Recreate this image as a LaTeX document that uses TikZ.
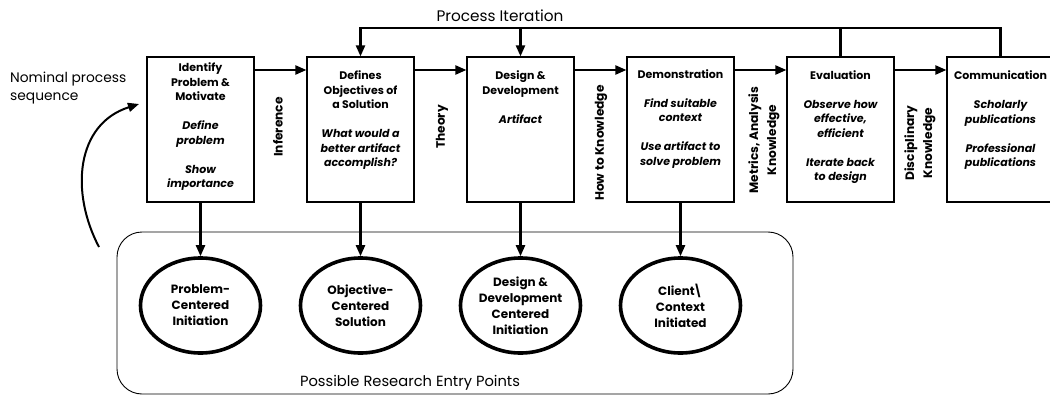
\documentclass[tikz,border=0pt]{standalone}
\usepackage{fontspec}
\setmainfont{Poppins}
\usetikzlibrary{arrows.meta,shapes.geometric}
\newcommand\stagehead[1]{{\bfseries #1}}
\newcommand\tasknote[1]{{\bfseries\itshape #1}}
\begin{document}
\begin{tikzpicture}[x=1pt,y=-1pt,
  stage/.style={draw, line width=1.2pt, minimum width=107pt, minimum height=145pt, inner sep=0pt},
  stagetext/.style={anchor=north, align=center, inner sep=0pt, font=\fontsize{11}{14.5}\selectfont},
  flow/.style={line width=2.2pt, -{Triangle[length=11pt,width=9pt]}},
  link/.style={line width=2.2pt},
  kind/.style={rotate=90, align=center, inner sep=0pt, font=\fontsize{12.2}{18}\selectfont\bfseries},
  entry/.style={draw, ellipse, line width=3.6pt, minimum width=120pt, minimum height=95pt,
    inner sep=0pt, align=center, font=\fontsize{12}{16}\selectfont\bfseries},
  plain/.style={inner sep=0pt, font=\fontsize{14.7}{17.5}\selectfont}
]
\useasboundingbox (0,0) rectangle (1050,396);
\clip (0,0) rectangle (1050,396);

% reference levels
\coordinate (lane) at (0,70);
\coordinate (top) at (0,28);

% process stages
\node[stage] (s1) at (200.5,129.5) {};
\node[stage] (s2) at (360.5,129.5) {};
\node[stage] (s3) at (520.5,129.5) {};
\node[stage] (s4) at (680.5,129.5) {};
\node[stage] (s5) at (840.5,129.5) {};
\node[stage] (s6) at (1000.5,129.5) {};

\node[stagetext] (t1) at (200.5,62.5) {\stagehead{Identify}\\\stagehead{Problem \&}\\\stagehead{Motivate}\\[14.5pt]
  \tasknote{Define}\\\tasknote{problem}\\[14.5pt]\tasknote{Show}\\\tasknote{importance}};
\node[stagetext] (t2) at (360.5,70.5) {\stagehead{Defines}\\\stagehead{Objectives of}\\\stagehead{a Solution}\\[14.5pt]
  \tasknote{What would a}\\\tasknote{better artifact}\\\tasknote{accomplish?}};
\node[stagetext] (t3) at (520.5,70.5) {\stagehead{Design \&}\\\stagehead{Development}\\[14.5pt]\tasknote{Artifact}};
\node[stagetext] (t4) at (680.5,69) {\stagehead{Demonstration}\\[14.5pt]
  \tasknote{Find suitable}\\\tasknote{context}\\[14.5pt]\tasknote{Use artifact to}\\\tasknote{solve problem}};
\node[stagetext] (t5) at (840.5,70) {\stagehead{Evaluation}\\[14.5pt]
  \tasknote{Observe how}\\\tasknote{effective,}\\\tasknote{efficient}\\[14.5pt]\tasknote{Iterate back}\\\tasknote{to design}};
\node[stagetext] (t6) at (1000.5,70.5) {\stagehead{Communication}\\[14.5pt]
  \tasknote{Scholarly}\\\tasknote{publications}\\[14.5pt]\tasknote{Professional}\\\tasknote{publications}};

% sequence arrows between stages
\draw[flow] (s1.east |- lane) -- (s2.west |- lane);
\draw[flow] (s2.east |- lane) -- (s3.west |- lane);
\draw[flow] (s3.east |- lane) -- (s4.west |- lane);
\draw[flow] (s4.east |- lane) -- (s5.west |- lane);
\draw[flow] (s5.east |- lane) -- (s6.west |- lane);

% knowledge produced between stages
\node[kind] (k1) at (278,127) {Inference};
\node[kind] (k2) at (442,127) {Theory};
\node[kind] (k3) at (601,143) {How to Knowledge};
\node[kind] (k4) at (764,140) {Metrics, Analysis\\Knowledge};
\node[kind] (k5) at (920,143) {Disciplinary\\Knowledge};

% iteration loop
\draw[flow] (s6.north) -- (s6.north |- top) -- (s2.north |- top) -- (s2.north);
\draw[link] (s5.north) -- (s5.north |- top);
\draw[flow] (s3.north |- top) -- (s3.north);
\node[plain, font=\fontsize{15.3}{17.5}\selectfont] (iter) at (500,16) {Process Iteration};

% nominal sequence note
\node[plain, anchor=west, align=left, font=\fontsize{13.8}{17.5}\selectfont] (nominal) at (10,88) {Nominal process\\sequence};
\coordinate (cstart) at (99,247);
\coordinate (cend) at (139,104);
\draw[line width=2pt, -{Triangle[length=11pt,width=9pt]}] (cstart) .. controls (70,192) and (76,124) .. (cend);

% entry points
\node[draw, line width=0.9pt, rounded corners=25pt, minimum width=676pt, minimum height=162pt, inner sep=0pt] (zone) at (455,313) {};
\node[entry] (e1) at (s1 |- 0,305.5) {Problem-\\Centered\\Initiation};
\node[entry] (e2) at (s2 |- 0,305.5) {Objective-\\Centered\\Solution};
\node[entry] (e3) at (s3 |- 0,305.5) {Design \&\\Development\\Centered\\Initiation};
\node[entry] (e4) at (s4 |- 0,305.5) {Client\kern-1.5pt\textbackslash\\Context\\Initiated};
\node[plain] (zonelabel) at (410,383) {Possible Research Entry Points};

\draw[flow] (s1.south) -- (e1.north);
\draw[flow] (s2.south) -- (e2.north);
\draw[flow] (s3.south) -- (e3.north);
\draw[flow] (s4.south) -- (e4.north);
\end{tikzpicture}
\end{document}
